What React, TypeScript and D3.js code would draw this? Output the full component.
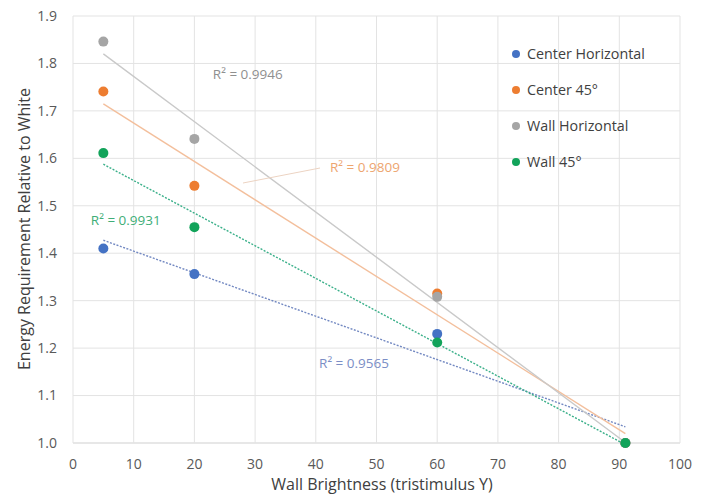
import React from 'react';
import * as d3 from 'd3';

// values
const brightness = [5, 20, 60, 91];
const centerHorizontal = [1.41, 1.356, 1.23, 1.0];
const center45 = [1.741, 1.542, 1.315, 1.0];
const wallHorizontal = [1.846, 1.641, 1.308, 1.0];
const wall45 = [1.611, 1.455, 1.212, 1.0];

const seriesNames = ['Center Horizontal', 'Center 45°', 'Wall Horizontal', 'Wall 45°'];
const seriesValues = [centerHorizontal, center45, wallHorizontal, wall45];
const rSquared = ['0.9565', '0.9809', '0.9946', '0.9931'];

const xTicks = [0, 10, 20, 30, 40, 50, 60, 70, 80, 90, 100];
const yTicks = [1.0, 1.1, 1.2, 1.3, 1.4, 1.5, 1.6, 1.7, 1.8, 1.9];

const colors = ['#4472c4', '#ed7d31', '#a5a5a5', '#12a35a'];
const trendColors = ['#7389c2', '#f3bf9c', '#c9c9c9', '#3bb08a'];
const trendDash = ['2,1.5', null, null, '2,1.5'];
const labelColors = ['#7b8ec6', '#eda56f', '#8f8f8f', '#3fae78'];
// label centre positions in data units [x, y]
const labelPos: [number, number][] = [
  [46.3, 1.169],
  [48.1, 1.582],
  [28.8, 1.778],
  [8.7, 1.47],
];

const font = '"Open Sans", sans-serif';

// simple least squares fit for the trendlines
const fit = (xs: number[], ys: number[]) => {
  const mx = d3.mean(xs)!;
  const my = d3.mean(ys)!;
  const sxy = d3.sum(xs, (x, i) => (x - mx) * (ys[i] - my));
  const sxx = d3.sum(xs, (x) => (x - mx) ** 2);
  const slope = sxy / sxx;
  return (x: number) => my + slope * (x - mx);
};

export default function App() {
  const width = 703;
  const height = 500;

  const x = d3.scaleLinear().domain([0, 100]).range([73, 680]);
  const y = d3.scaleLinear().domain([1.0, 1.9]).range([443, 16]);

  const line = d3.line<number[]>()
    .x((d) => x(d[0]))
    .y((d) => y(d[1]));

  const xMin = d3.min(brightness)!;
  const xMax = d3.max(brightness)!;

  return (
    <svg
      width={width}
      height={height}
      style={{ position: 'absolute', left: 0, top: 0, background: '#fff' }}
      fontFamily={font}
    >
      {/* grid */}
      {yTicks.map((t) => (
        <line key={'gy' + t} x1={x(0)} x2={x(100)} y1={y(t)} y2={y(t)}
          stroke={t === 1.0 ? '#cfcfcf' : '#e3e3e3'} strokeWidth={1} />
      ))}
      {xTicks.map((t) => (
        <line key={'gx' + t} x1={x(t)} x2={x(t)} y1={y(1.0)} y2={y(1.9)}
          stroke="#e3e3e3" strokeWidth={1} />
      ))}

      {/* tick labels */}
      {yTicks.map((t) => (
        <text key={'ly' + t} x={57} y={y(t)} dy="0.35em" textAnchor="end"
          fontSize={14} fill="#595959">{t.toFixed(1)}</text>
      ))}
      {xTicks.map((t) => (
        <text key={'lx' + t} x={x(t)} y={464} dy="0.35em" textAnchor="middle"
          fontSize={14} fill="#595959">{t}</text>
      ))}

      {/* axis titles */}
      <text x={382} y={484} dy="0.35em" textAnchor="middle" fontSize={16} fill="#404040">
        Wall Brightness (tristimulus Y)
      </text>
      <text transform={`translate(24,229) rotate(-90)`} dy="0.35em" textAnchor="middle"
        fontSize={16} fill="#404040">
        Energy Requirement Relative to White
      </text>

      {/* trendlines */}
      {seriesValues.map((vals, i) => {
        const f = fit(brightness, vals);
        const pts = [[xMin, f(xMin)], [xMax, f(xMax)]];
        return (
          <path key={'t' + i} d={line(pts) || ''} fill="none" stroke={trendColors[i]}
            strokeWidth={1.4} strokeDasharray={trendDash[i] || undefined} />
        );
      })}

      {/* leader line for the Center 45 label */}
      <line x1={243} y1={183} x2={320} y2={168} stroke="#ecd3c2" strokeWidth={1} />

      {/* R squared labels */}
      {seriesValues.map((_, i) => (
        <text key={'r' + i} x={x(labelPos[i][0])} y={y(labelPos[i][1])} dy="0.35em"
          textAnchor="middle" fontSize={13.5} fill={labelColors[i]}>
          R² = {rSquared[i]}
        </text>
      ))}

      {/* points */}
      {seriesValues.map((vals, i) => (
        <g key={'p' + i}>
          {vals.map((v, j) => (
            <circle key={j} cx={x(brightness[j])} cy={y(v)} r={5} fill={colors[i]} />
          ))}
        </g>
      ))}

      {/* legend */}
      {seriesNames.map((name, i) => (
        <g key={'lg' + i} transform={`translate(516,${54 + i * 36})`}>
          <circle r={4} fill={colors[i]} />
          <text x={11} dy="0.35em" fontSize={14.3} fill="#404040">{name}</text>
        </g>
      ))}
    </svg>
  );
}
